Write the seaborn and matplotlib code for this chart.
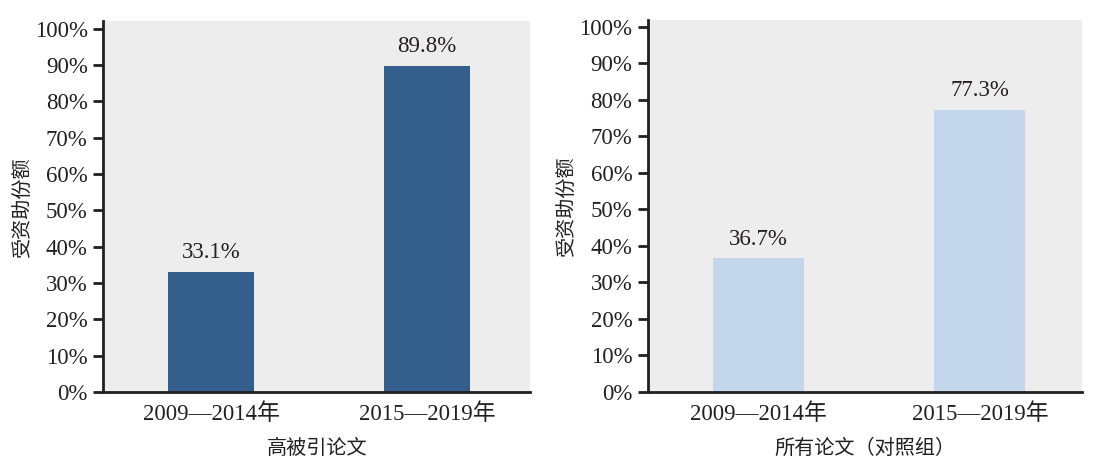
import matplotlib
matplotlib.use("Agg")
import matplotlib.pyplot as plt
import pandas as pd
import seaborn as sns

# data
periods = ["2009—2014年", "2015—2019年"]
highly_cited = [33.1, 89.8]  # 高被引论文
all_papers = [36.7, 77.3]  # 所有论文（对照组）
y_ticks = list(range(0, 101, 10))

sns.set_theme(style="white")
plt.rcParams['font.family'] = ['Liberation Serif', 'Noto Sans CJK SC']
plt.rcParams['axes.facecolor'] = '#ecedec'

fig = plt.figure(figsize=(10.96, 4.67), dpi=100)
ax1 = fig.add_axes([0.094, 0.161, 0.390, 0.793])
ax2 = fig.add_axes([0.591, 0.161, 0.396, 0.797])

panels = [
    (ax1, highly_cited, '#345e8c', '高被引论文', (-0.5, 1.48), 0.4),
    (ax2, all_papers, '#c4d6eb', '所有论文（对照组）', (-0.5, 1.46), 0.41),
]

for ax, vals, col, xlab, xl, w in panels:
    df = pd.DataFrame({"period": periods, "share": vals})
    sns.barplot(data=df, x="period", y="share", color=col, width=w,
                saturation=1, linewidth=0, ax=ax)
    for i, v in enumerate(vals):
        ax.text(i, v + 2.3, f"{v:.1f}%", ha='center', va='bottom',
                fontsize=16.5, color='#231f20')
    ax.set_ylim(0, 102)
    ax.set_xlim(*xl)
    ax.set_yticks(y_ticks)
    ax.set_yticklabels([f"{t}%" for t in y_ticks])
    ax.set_ylabel("受资助份额", fontsize=14.5, color='#231f20')
    ax.yaxis.set_label_coords(-0.163, 0.5)
    ax.set_xlabel(xlab, fontsize=14.5, color='#231f20', labelpad=11)
    for s in ['top', 'right']:
        ax.spines[s].set_visible(False)
    for s in ['left', 'bottom']:
        ax.spines[s].set_color('#231f20')
        ax.spines[s].set_linewidth(2)
    ax.tick_params(axis='y', which='major', length=7, width=2, color='#231f20',
                   labelsize=16.5, labelcolor='#231f20', direction='out', left=True, pad=4)
    ax.tick_params(axis='x', length=0, labelsize=16.5, labelcolor='#231f20', pad=8)

fig.savefig("out.png", dpi=100)
